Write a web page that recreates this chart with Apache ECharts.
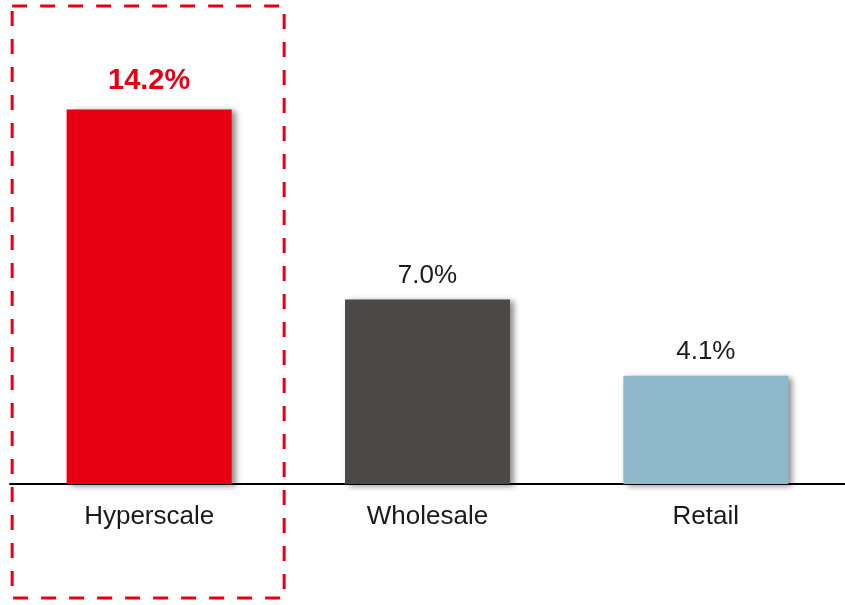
<!DOCTYPE html>
<html>
<head>
<meta charset="utf-8">
<script src="https://cdn.jsdelivr.net/npm/echarts@6/dist/echarts.min.js"></script>
<style>
  html, body { margin: 0; padding: 0; background: #fff; }
  #chart { width: 845px; height: 605px; }
</style>
</head>
<body>
<div id="chart"></div>
<script>
// Growth rate by data-centre segment (%)
const categories = ['Hyperscale', 'Wholesale', 'Retail'];
const growthValues = [14.2, 7.0, 4.1];
const barColors = ['#E60012', '#4A4947', '#8FB8CB'];
const highlightIndex = 0;

const chart = echarts.init(document.getElementById('chart'));
const FONT = '"Liberation Sans", Arial, sans-serif';

const seriesData = growthValues.map((v, i) => ({
  value: v,
  itemStyle: { color: barColors[i] },
  label: i === highlightIndex
    ? { color: '#E60012', fontWeight: 'bold', fontSize: 29, distance: 14 }
    : { color: '#1a1a1a', fontWeight: 'normal', fontSize: 26, distance: 11 }
}));

chart.setOption({
  animation: false,
  grid: { left: 10, width: 839, top: 62, height: 422 },
  xAxis: {
    type: 'category',
    data: categories,
    axisLine: { show: true, lineStyle: { color: '#000', width: 2 } },
    axisTick: { show: false },
    axisLabel: { color: '#1a1a1a', fontSize: 26, fontFamily: FONT, margin: 20 }
  },
  yAxis: {
    type: 'value',
    min: 0,
    max: 16,
    show: false,
    splitLine: { show: false }
  },
  series: [{
    type: 'bar',
    data: seriesData,
    barWidth: 165,
    itemStyle: {
      shadowColor: 'rgba(0,0,0,0.45)',
      shadowBlur: 6,
      shadowOffsetX: 4,
      shadowOffsetY: 2
    },
    label: {
      show: true,
      position: 'top',
      fontFamily: FONT,
      formatter: p => p.value.toFixed(1) + '%'
    }
  }]
});

// Dashed frame around the highlighted segment
const cx = chart.convertToPixel({ xAxisIndex: 0 }, categories[highlightIndex]);
chart.setOption({
  graphic: [{
    type: 'rect',
    shape: { x: cx - 137, y: 6, width: 272, height: 592 },
    style: { fill: 'none', stroke: '#E60012', lineWidth: 3, lineDash: [15, 13] },
    silent: true
  }]
});
</script>
</body>
</html>
